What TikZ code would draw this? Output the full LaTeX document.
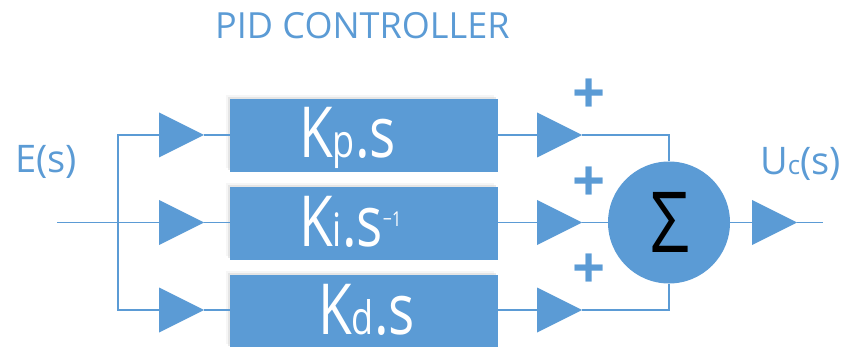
\documentclass[tikz,border=0pt]{standalone}
\usepackage{fontspec}
\setmainfont{Open Sans}
\usetikzlibrary{shapes.geometric,shadows}
\definecolor{pidblue}{HTML}{5B9BD5}
\newcommand\fsz[1]{\fontsize{#1}{#1}\selectfont}
\newcommand\gainlabel[2]{\scalebox{1}[1.28]{\fsz{55}K\fsz{36}#1\fsz{55}.s#2}}

\begin{document}
\begin{tikzpicture}[x=1pt,y=-1pt,
  wire/.style={draw=pidblue,line width=1.5pt},
  amp/.style={isosceles triangle,isosceles triangle stretches,fill=pidblue,
    minimum width=45pt,minimum height=45pt,inner sep=0pt,outer sep=0pt,anchor=apex},
  gainbox/.style={rectangle,fill=pidblue,minimum width=268pt,minimum height=73pt,
    inner sep=0pt,outer sep=0pt,
    drop shadow={shadow xshift=-4pt,shadow yshift=4pt,fill=black!7},
    drop shadow={shadow xshift=-2pt,shadow yshift=2pt,fill=black!16}},
  gaintext/.style={anchor=base west,inner sep=0pt,text=white},
  bluelabel/.style={anchor=base west,inner sep=0pt,text=pidblue,font=\fsz{38}},
  plussign/.style={inner sep=0pt,text=pidblue,font=\fsz{58}\bfseries},
]
\useasboundingbox (0,0) rectangle (845,347);

% title
\node[bluelabel,font=\fsz{36}] (title) at (215,39) {PID CONTROLLER};

% gain blocks
\node[gainbox] (bp) at (364,135.5) {};
\node[gainbox] (bi) at (364,223.5) {};
\node[gainbox] (bd) at (364,311.5) {};
\node[gaintext] (tp) at (299,158) {\gainlabel{p}{}};
\node[gaintext] (ti) at (299,247) {\gainlabel{i}{\raisebox{16pt}{\fsz{16}\textminus1}}};
\node[gaintext] (td) at (318,334) {\gainlabel{d}{}};

% input amplifiers
\node[amp] (ap) at (204,135) {};
\node[amp] (ai) at (204,222.5) {};
\node[amp] (ad) at (204,310) {};

% output amplifiers of the branches
\node[amp] (op) at (582,135) {};
\node[amp] (oi) at (582,222.5) {};
\node[amp] (od) at (582,310) {};

% summing junction
\node[circle,fill=pidblue,minimum size=122pt,inner sep=0pt,outer sep=0pt] (sum) at (669,222.5) {};
\node[inner sep=0pt] (sigma) at (670,222) {\scalebox{1}[1.22]{\fsz{69}Σ}};

% final amplifier
\node[amp] (ao) at (797,222.5) {};

% signs at the junction inputs
\node[plussign] (s1) at (589,96) {+};
\node[plussign] (s2) at (589,184) {+};
\node[plussign] (s3) at (589,271) {+};

% signal labels
\node[bluelabel] (es) at (15,173) {E(s)};
\node[bluelabel] (us) at (760,175) {U{\fsz{26}c}(s)};

% wiring
\coordinate (ein) at (57,222.5);
\coordinate (jt) at (118,135);
\coordinate (jb) at (118,310);
\coordinate (uout) at (823,222.5);
\draw[wire] (ein) -- (ai.west);
\draw[wire] (ap.west) -- (jt) -- (jb) -- (ad.west);
\draw[wire] (ap.east) -- (bp.west |- ap.east);
\draw[wire] (ai.east) -- (bi.west |- ai.east);
\draw[wire] (ad.east) -- (bd.west |- ad.east);
\draw[wire] (bp.east |- op.west) -- (op.west);
\draw[wire] (bi.east |- oi.west) -- (oi.west);
\draw[wire] (bd.east |- od.west) -- (od.west);
\draw[wire] (op.east) -| (sum.north);
\draw[wire] (oi.east) -- (sum.west);
\draw[wire] (od.east) -| (sum.south);
\draw[wire] (sum.east) -- (ao.west);
\draw[wire] (ao.east) -- (uout);
\end{tikzpicture}
\end{document}
